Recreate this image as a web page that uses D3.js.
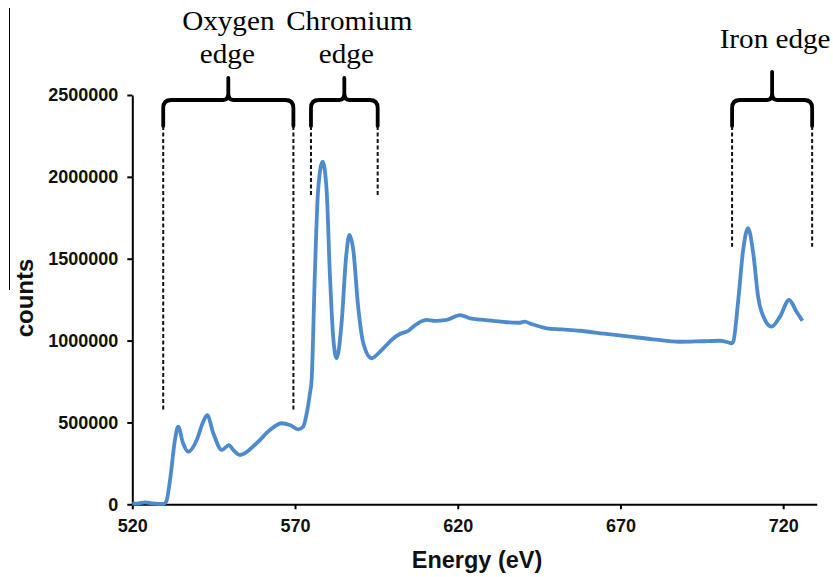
<!DOCTYPE html>
<html><head><meta charset="utf-8">
<script src="https://cdn.jsdelivr.net/npm/d3@7"></script>
<style>html,body{margin:0;padding:0;background:#fff}</style>
</head><body>
<svg id="chart" width="833" height="577"></svg>
<script>
// ---- data ----
const energy = [520.0,522.0,523.9,526.0,528.0,529.5,530.4,531.6,533.1,534.1,535.6,537.2,539.8,541.6,543.0,544.9,547.5,549.7,551.0,553.1,558.2,562.3,565.9,568.4,571.0,572.5,573.6,574.6,575.1,576.1,577.1,578.5,579.7,580.7,581.8,582.8,584.3,585.7,586.7,587.9,589.4,591.0,593.5,596.6,600.0,602.2,604.8,606.3,610.4,613.0,616.6,620.7,623.8,627.0,630.9,635.0,639.1,640.6,642.5,647.3,652.0,657.5,665.0,672.9,680.0,688.2,695.0,700.5,703.0,704.1,704.6,706.2,707.7,709.2,710.8,712.3,714.4,716.4,719.0,721.8,724.1,725.9];
const counts = [4000,6000,12000,6000,3000,3000,15000,148000,393000,474000,373000,321000,393000,495000,545000,434000,332000,362000,332000,301000,373000,454000,495000,484000,458000,474000,556000,680000,759000,1411000,1920000,2093000,1920000,1411000,1004000,892000,1106000,1512000,1645000,1553000,1207000,983000,892000,942000,1010000,1040000,1060000,1085000,1126000,1120000,1126000,1156000,1136000,1128000,1121000,1112000,1109000,1116000,1102000,1075000,1068000,1060000,1042000,1024000,1008000,993000,996000,999000,990000,983000,990000,1248000,1553000,1686000,1533000,1268000,1126000,1085000,1146000,1248000,1176000,1121000];
const xTicks = [520,570,620,670,720];
const yTicks = [0,500000,1000000,1500000,2000000,2500000];
const edgeNames = ["Oxygen edge","Chromium edge","Iron edge"];
const edgeLines = [["Oxygen","edge"],["Chromium","edge"],["Iron edge"]];
const edgeStart = [529.5,574.9,704.3];
const edgeEnd = [569.5,595.4,728.9];
const edgeDashEnd = [576000,1879000,1573000];

// ---- layout ----
const W = 833, H = 577;
const svg = d3.select("#chart");
svg.append("rect").attr("width",W).attr("height",H).attr("fill","#fff");

const x = d3.scaleLinear().domain([520,730.3]).range([132.3,816.7]);
const y = d3.scaleLinear().domain([0,2500000]).range([504.3,95]);

// stray vertical rule at far left (present in reference)
svg.append("line").attr("x1",9.5).attr("x2",9.5).attr("y1",8).attr("y2",290)
  .attr("stroke","#000").attr("stroke-width",1);

const sans = "'Liberation Sans', Arial, sans-serif";
const serif = "'Liberation Serif', 'Times New Roman', serif";

// axes
const gy = svg.append("g").attr("transform",`translate(${x.range()[0]},0)`)
  .call(d3.axisLeft(y).tickValues(yTicks).tickFormat(d3.format("d")).tickSize(5).tickSizeOuter(0).tickPadding(9));
const gx = svg.append("g").attr("transform",`translate(0,${y(0)})`)
  .call(d3.axisBottom(x).tickValues(xTicks).tickFormat(d3.format("d")).tickSize(5).tickSizeOuter(0).tickPadding(10));
[gx,gy].forEach(g=>{
  g.select(".domain").attr("stroke","#000").attr("stroke-width",2);
  g.selectAll(".tick line").attr("stroke","#000").attr("stroke-width",2);
  g.selectAll(".tick text").attr("fill","#111").style("font-family",sans)
    .style("font-weight","bold").style("font-size","18px");
});

// axis titles
svg.append("text").attr("x",477).attr("y",568).attr("text-anchor","middle")
  .style("font-family",sans).style("font-weight","bold").style("font-size","23.5px")
  .attr("fill","#111").text("Energy (eV)");
svg.append("text").attr("transform","translate(33,298) rotate(-90)").attr("text-anchor","middle")
  .style("font-family",sans).style("font-weight","bold").style("font-size","24px")
  .attr("fill","#111").text("counts");

// data line
const line = d3.line().x((d,i)=>x(energy[i])).y(d=>y(d)).curve(d3.curveMonotoneX);
svg.append("path").datum(counts).attr("d",line).attr("fill","none")
  .attr("stroke","#4d8bcd").attr("stroke-width",3.8).attr("stroke-linejoin","round");

// edge braces
const yTop = y(2500000)+5, yEndB = yTop+26;
const labelShift = [[0,-1],[5,2],[3]];
edgeNames.forEach((name,i)=>{
  const xl = x(edgeStart[i]), xr = x(edgeEnd[i]), xm = (xl+xr)/2;
  const tip = i===2 ? yTop-28 : yTop-22;
  const r = 8;
  const p = d3.path();
  p.moveTo(xl,yEndB); p.lineTo(xl,yTop+r); p.quadraticCurveTo(xl,yTop,xl+r,yTop);
  p.lineTo(xm-5,yTop); p.quadraticCurveTo(xm,yTop,xm,yTop-7); p.lineTo(xm,tip);
  p.moveTo(xm,tip); p.lineTo(xm,yTop-7); p.quadraticCurveTo(xm,yTop,xm+5,yTop);
  p.lineTo(xr-r,yTop); p.quadraticCurveTo(xr,yTop,xr,yTop+r); p.lineTo(xr,yEndB);
  svg.append("path").attr("d",p.toString()).attr("fill","none").attr("stroke","#000")
    .attr("stroke-width",3.8).attr("stroke-linecap","round").attr("stroke-linejoin","round");
  [xl,xr].forEach(xx=>{
    svg.append("line").attr("x1",xx).attr("x2",xx).attr("y1",yEndB).attr("y2",y(edgeDashEnd[i]))
      .attr("stroke","#111").attr("stroke-width",2).attr("stroke-dasharray","4,2.5");
  });
  const lines = edgeLines[i];
  lines.forEach((t,j)=>{
    const by = lines.length===1 ? 48 : (j===0 ? 30 : 63);
    const cx = xm + labelShift[i][j];
    svg.append("text").attr("transform",`translate(${cx},${by}) scale(1.08,1)`)
      .attr("text-anchor","middle").style("font-family",serif).style("font-size","27px")
      .attr("fill","#000").text(t);
  });
});
</script>
</body></html>
